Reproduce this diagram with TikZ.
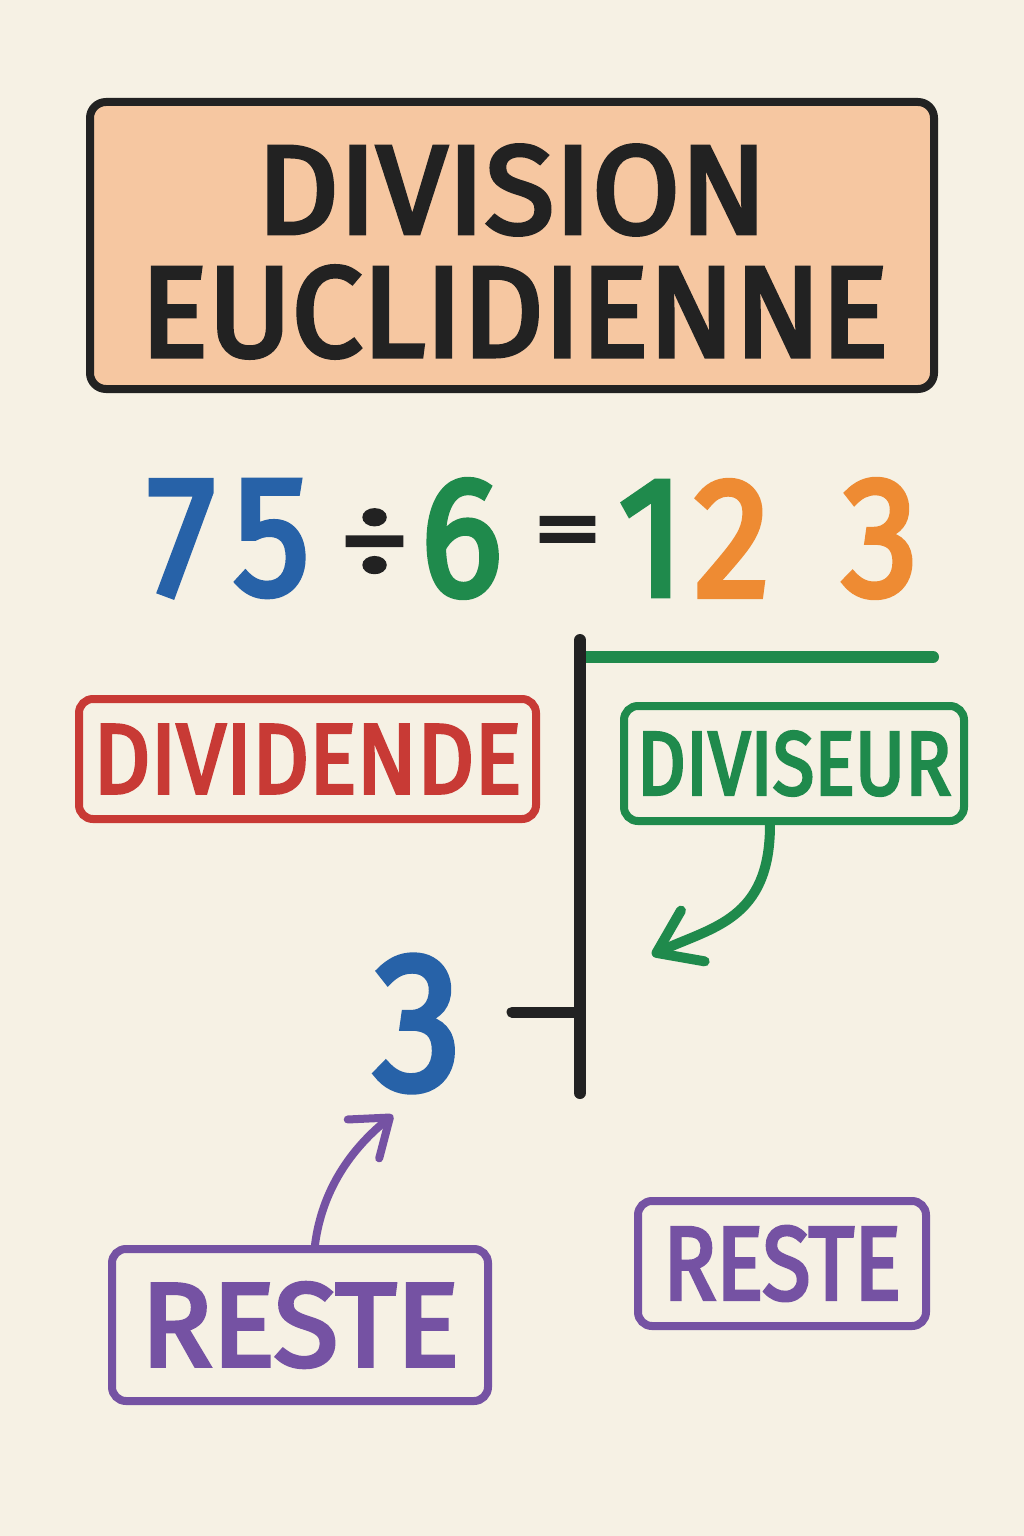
\documentclass[tikz,border=0pt]{standalone}
\usepackage{fontspec}
\setmainfont{Fira Sans}
\newfontfamily\lbl{Fira Sans}[FakeBold=3.5]
\usepackage{graphicx}
\usetikzlibrary{arrows.meta,calc}
\definecolor{bg}{HTML}{F6F1E4}
\definecolor{ink}{HTML}{222222}
\definecolor{peach}{HTML}{F6C7A1}
\definecolor{dblue}{HTML}{2762A8}
\definecolor{dgreen}{HTML}{1F8A4C}
\definecolor{dorange}{HTML}{EE8B33}
\definecolor{dred}{HTML}{C83A35}
\definecolor{dpurple}{HTML}{7552A3}
\begin{document}
\begin{tikzpicture}[x=1pt,y=-1pt,
  box/.style={draw, line width=8pt, rounded corners=14pt, inner sep=0pt, font=\lbl},
  txt/.style={inner sep=0pt, font=\lbl},
  digit/.style={inner sep=0pt, font=\fontsize{170}{170}\selectfont\lbl},
  stroke/.style={line width=12pt, line cap=round},
  pointer/.style={line cap=round}
]
\useasboundingbox (0,0) rectangle (1024,1536);
\fill[bg] (0,0) rectangle (1024,1536);

% title
\node[box, draw=ink, fill=peach, rounded corners=16pt, minimum width=844pt, minimum height=287pt] (title) at (512,245.5) {};
\node[txt, text=ink] (t1) at (512,190) {\resizebox{510pt}{88pt}{DIVISION}};
\node[txt, text=ink] (t2) at (514.5,312) {\resizebox{748pt}{90pt}{EUCLIDIENNE}};

% equation
\node[digit, text=dblue] (e7) at (181.5,538.5) {\scalebox{0.9}[1]{7}};
\node[digit, text=dblue] (e5) at (271.5,538.5) {\scalebox{0.9}[1]{5}};
\node[txt, text=ink] (ediv) at (374.5,543) {\resizebox{70pt}{66pt}{÷}};
\node[digit, text=dgreen] (e6) at (461.5,538.5) {\scalebox{0.9}[1]{6}};
\node[txt, text=ink] (eeq) at (567.5,538) {\resizebox{68pt}{41pt}{=}};
\node[digit, text=dgreen] (e1) at (651.5,538.5) {\scalebox{0.9}[1]{1}};
\node[digit, text=dorange] (e2) at (732,538.5) {\scalebox{0.9}[1]{2}};
\node[digit, text=dorange] (e3) at (880,538.5) {\scalebox{0.9}[1]{3}};

% division bracket
\coordinate (vtop) at (580,640);
\coordinate (vbot) at (580,1093);
\coordinate (gstart) at (580,657);
\coordinate (gend) at (933,657);
\coordinate (tickL) at (512,1012);
\coordinate (tickR) at (580,1012);
\draw[stroke, dgreen] (gstart) -- (gend);
\draw[stroke, ink] (vtop) -- (vbot);
\draw[stroke, ink, line width=11pt] (tickL) -- (tickR);

% labels
\node[box, draw=dred, text=dred, minimum width=457pt, minimum height=120pt] (dividende) at (307.5,759) {\resizebox{428pt}{68pt}{DIVIDENDE}};
\node[box, draw=dgreen, text=dgreen, minimum width=340pt, minimum height=115pt] (diviseur) at (794,763.5) {\resizebox{314pt}{63pt}{DIVISEUR}};
\node[box, draw=dpurple, text=dpurple, minimum width=376pt, minimum height=152pt] (resteL) at (300,1325) {\resizebox{318pt}{83pt}{RESTE}};
\node[box, draw=dpurple, text=dpurple, minimum width=288pt, minimum height=125pt] (resteR) at (782,1263.5) {\resizebox{238pt}{73pt}{RESTE}};

% remainder
\node[txt, text=dblue] (three) at (417.5,1023.5) {\resizebox{88pt}{133pt}{3}};

% arrows
\coordinate (gtip) at (652,955);
\coordinate (ptip) at (393,1115);
\draw[pointer, dgreen, line width=10pt, -{Straight Barb[length=40pt,width=56pt,round]}]
  ($(diviseur.south west)!0.431!(diviseur.south east)$) .. controls +(0,95) and +(60,-28) .. (gtip);
\draw[pointer, dpurple, line width=8pt, -{Straight Barb[length=34pt,width=50pt,round]}]
  ($(resteL.north west)!0.539!(resteL.north east)$) .. controls +(7,-55) and +(-42,34) .. (ptip);
\end{tikzpicture}
\end{document}
